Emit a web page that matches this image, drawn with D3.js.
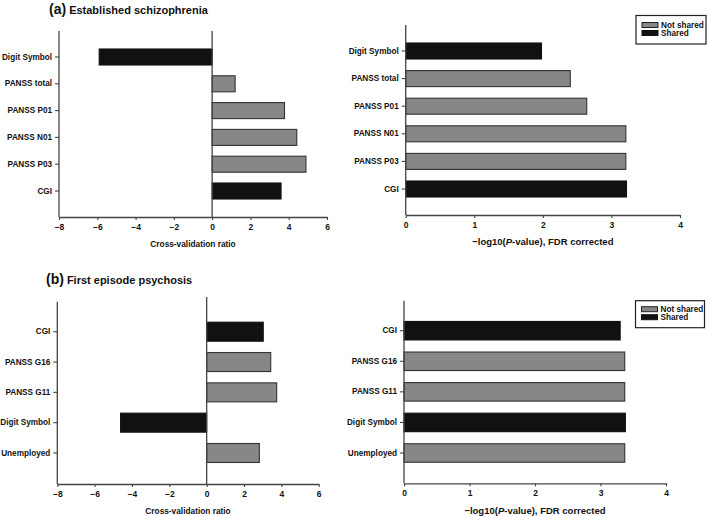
<!DOCTYPE html>
<html><head><meta charset="utf-8">
<script src="https://cdn.jsdelivr.net/npm/d3@7"></script>
<style>
body{margin:0;background:#fff;}
svg{display:block;font-family:"Liberation Sans",Arial,sans-serif;font-weight:bold;}
</style></head>
<body>
<svg id="c" width="709" height="516"></svg>
<script>
const catsA = ["Digit Symbol","PANSS total","PANSS P01","PANSS N01","PANSS P03","CGI"];
const cvrA = [-5.9, 1.2, 3.78, 4.42, 4.9, 3.6];
const pA = [1.98, 2.40, 2.64, 3.21, 3.21, 3.22];
const sharedA = [true, false, false, false, false, true];
const catsB = ["CGI","PANSS G16","PANSS G11","Digit Symbol","Unemployed"];
const cvrB = [3.03, 3.43, 3.75, -4.61, 2.82];
const pB = [3.30, 3.37, 3.37, 3.38, 3.37];
const sharedB = [true, false, false, true, false];
const cvrTicks = [-8,-6,-4,-2,0,2,4,6];
const pTicks = [0,1,2,3,4];
const legendLabels = ["Not shared","Shared"];
const titles = ["Established schizophrenia","First episode psychosis"];
const panelLetters = ["(a)","(b)"];

const GRAY = "#878787", BLACK = "#111", AX = "#444";
const FONT = "Liberation Sans, Arial, sans-serif";
const svg = d3.select("#c");
const fmt = d3.format("d");

function panel(o){
  const g = svg.append("g");
  const x = d3.scaleLinear().domain(o.domain).range(o.xr);
  const step = (o.centers[1]-o.centers[0])/(o.cats.length-1);
  const pi = 1 - o.bw/step;
  const y = d3.scaleBand().domain(o.cats)
    .range([o.centers[0]-step/2, o.centers[1]+step/2])
    .paddingInner(pi).paddingOuter(pi/2);
  // bars
  g.selectAll("rect.bar").data(o.vals).join("rect")
    .attr("x", d => x(Math.min(0,d)))
    .attr("width", d => Math.abs(x(d)-x(0)))
    .attr("y", (d,i) => y(o.cats[i]))
    .attr("height", y.bandwidth())
    .attr("fill", (d,i) => o.shared[i] ? BLACK : GRAY)
    .attr("stroke", (d,i) => o.shared[i] ? BLACK : "#333")
    .attr("stroke-width", 1.1);
  // x axis
  const xa = g.append("g").attr("transform", `translate(0,${o.axisY})`)
    .call(d3.axisBottom(x).tickValues(o.ticks).tickFormat(fmt).tickSize(3).tickSizeOuter(0).tickPadding(4));
  xa.select(".domain").attr("stroke", AX).attr("stroke-width", 1.3);
  xa.selectAll(".tick line").attr("stroke", AX).attr("stroke-width", 1.1);
  xa.selectAll(".tick text").attr("font-size", 8.5).attr("font-weight","bold")
    .attr("font-family", FONT).attr("fill","#111");
  // y axis
  const ya = g.append("g").attr("transform", `translate(${o.xr[0]},0)`)
    .call(d3.axisLeft(y).tickSize(4).tickPadding(3));
  ya.select(".domain").remove();
  ya.selectAll(".tick line").attr("stroke", AX).attr("stroke-width", 1.1);
  ya.selectAll(".tick text").attr("font-size", 8.2).attr("font-weight","bold")
    .attr("font-family", FONT).attr("fill","#111");
  g.append("line").attr("x1", o.xr[0]).attr("x2", o.xr[0])
    .attr("y1", o.axisTop).attr("y2", o.axisY)
    .attr("stroke", AX).attr("stroke-width", 1.3);
  if (o.zeroTop !== undefined) {
    g.append("line").attr("x1", x(0)).attr("x2", x(0))
      .attr("y1", o.zeroTop).attr("y2", o.axisY)
      .attr("stroke", AX).attr("stroke-width", 1.3);
  }
  // axis title
  const t = g.append("text").attr("x", (o.xr[0]+o.xr[1])/2).attr("y", o.titleY)
    .attr("text-anchor","middle").attr("font-size", o.titleSize).attr("fill","#111");
  if (o.pTitle) {
    t.append("tspan").text("\u2212log10(");
    t.append("tspan").attr("font-style","italic").text("P");
    t.append("tspan").text("-value), FDR corrected");
  } else {
    t.text("Cross-validation ratio");
  }
  if (o.legend) {
    const L = o.legend;
    svg.append("rect").attr("x", L.x).attr("y", L.y).attr("width", L.w).attr("height", L.h)
      .attr("fill","#fff").attr("stroke","#222").attr("stroke-width",1.2);
    const cols = [GRAY, BLACK];
    legendLabels.forEach((lab,i) => {
      svg.append("rect").attr("x", L.x+6).attr("y", L.y+L.sy+i*L.gap).attr("width", 16)
        .attr("height", 5).attr("fill", cols[i]).attr("stroke", i===0?"#222":BLACK).attr("stroke-width",1);
      svg.append("text").attr("x", L.x+25).attr("y", L.y+L.sy+i*L.gap+5.5)
        .attr("font-size", 8.2).attr("fill","#111").text(lab);
    });
  }
}

// Titles
[[49,14],[46,284]].forEach((p,i) => {
  const t = svg.append("text").attr("x", p[0]).attr("y", p[1]).attr("fill","#111");
  t.append("tspan").attr("font-size", 14).text(panelLetters[i]);
  t.append("tspan").attr("font-size", 11).attr("dx", 3).text(titles[i]);
});

panel({cats: catsA, vals: cvrA, shared: sharedA, domain:[-8,6], xr:[59,327],
  centers:[57,191], bw:16, axisY:217, axisTop:31, zeroTop:31, ticks:cvrTicks,
  titleY:247, titleSize:8.3});
panel({cats: catsA, vals: pA, shared: sharedA, domain:[0,4], xr:[405.7,680],
  centers:[51,189], bw:16, axisY:215, axisTop:25, ticks:pTicks,
  titleY:245, titleSize:9.5, pTitle:true,
  legend:{x:636, y:15.5, w:70, h:28.5, sy:7, gap:8}});
panel({cats: catsB, vals: cvrB, shared: sharedB, domain:[-8,6], xr:[57.3,318.7],
  centers:[331.7,453], bw:19, axisY:484, axisTop:301.7, zeroTop:297, ticks:cvrTicks,
  titleY:514, titleSize:8.3});
panel({cats: catsB, vals: pB, shared: sharedB, domain:[0,4], xr:[404,666],
  centers:[330.7,453], bw:18.5, axisY:483.3, axisTop:300.7, ticks:pTicks,
  titleY:513.5, titleSize:9.5, pTitle:true,
  legend:{x:635.5, y:300.7, w:69, h:27, sy:6, gap:8}});
</script>
</body></html>
